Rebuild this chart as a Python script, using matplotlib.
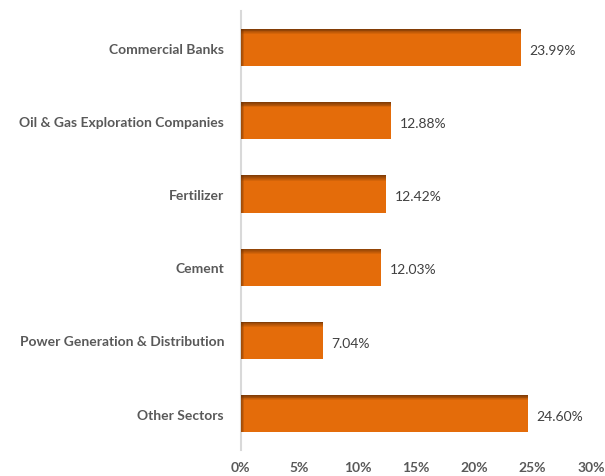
import matplotlib.pyplot as plt
from matplotlib.patches import Rectangle

categories = ["Commercial Banks", "Oil & Gas Exploration Companies", "Fertilizer",
              "Cement", "Power Generation & Distribution", "Other Sectors"]
values = [23.99, 12.88, 12.42, 12.03, 7.04, 24.60]
xticks = [0, 5, 10, 15, 20, 25, 30]

ORANGE = "#E46C0A"
DARK = "#6B3206"
TEXT = "#595959"

plt.rcParams['font.family'] = ['Lato', 'DejaVu Sans']

fig = plt.figure(figsize=(6.05, 4.77), dpi=100)
ax = fig.add_axes([0.398, 0.054, 0.579, 0.921])

ypos = list(range(len(categories)))
bars = ax.barh(ypos, values, height=0.51, color=ORANGE, zorder=2)

ax.set_xlim(0, 30)
ax.set_ylim(len(categories) - 0.5, -0.5)

# fake bevel: dark fade along top and left edge of each bar
steps = 6
for b in bars:
    x, y, w, h = b.get_x(), b.get_y(), b.get_width(), b.get_height()
    th = h * 0.14 / steps
    lw = 0.3 / steps
    for i in range(steps):
        a = 0.8 * (1 - i / steps)
        ax.add_patch(Rectangle((x, y + i * th), w, th, color=DARK, alpha=a,
                               lw=0, zorder=3))
        ax.add_patch(Rectangle((x + i * lw, y), lw, h, color=DARK, alpha=a * 0.8,
                               lw=0, zorder=3))

for b, v in zip(bars, values):
    ax.text(b.get_width() + 0.75, b.get_y() + b.get_height() / 2 + 0.03, f"{v:.2f}%",
            va="center", ha="left", fontsize=10, color="#404040")

ax.set_yticks(ypos)
ax.set_yticklabels(categories, fontsize=10, fontweight="bold", color=TEXT)
ax.set_xticks(xticks)
ax.set_xticklabels([f"{t}%" for t in xticks], fontsize=10, fontweight="bold", color=TEXT)
ax.tick_params(axis="both", length=0)
ax.tick_params(axis="x", pad=8)
ax.tick_params(axis="y", pad=12)

for s in ["top", "right", "bottom"]:
    ax.spines[s].set_visible(False)
ax.spines["left"].set_color("#D9D9D9")
ax.spines["left"].set_linewidth(1.5)
ax.spines["left"].set_zorder(1)

fig.savefig("out.png", dpi=100)
